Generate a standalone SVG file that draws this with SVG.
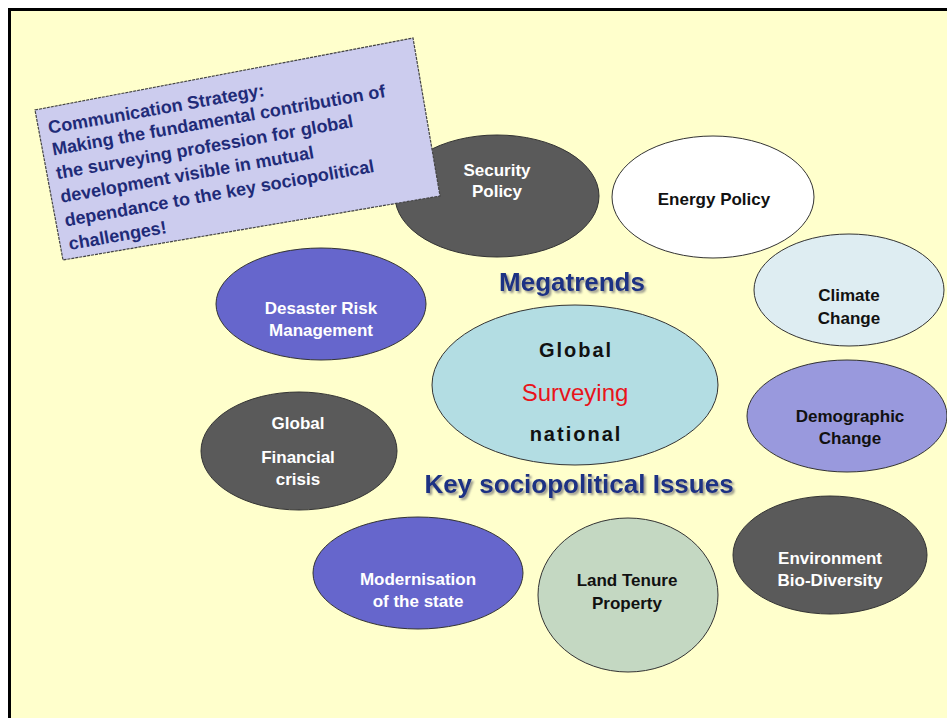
<svg xmlns="http://www.w3.org/2000/svg" width="947" height="718" viewBox="0 0 947 718">
<defs>
<filter id="shadow" x="-10%" y="-30%" width="130%" height="170%">
<feDropShadow dx="2" dy="2" stdDeviation="1.2" flood-color="#7a7a7a" flood-opacity="0.8"/>
</filter>
</defs>
<style>
.node{stroke:#333;stroke-width:1}
.lbl{font-family:"Liberation Sans",Arial,sans-serif;font-weight:bold;font-size:17px;text-anchor:middle}
.w{fill:#ffffff}
.k{fill:#111111}
.gray{fill:#5a5a5a}
.purple{fill:#6666cc}
.box{font-family:"Liberation Sans",Arial,sans-serif;font-weight:bold;font-size:18px;fill:#1f2b78}
.head{font-family:"Liberation Sans",Arial,sans-serif;font-weight:bold;font-size:26px;fill:#1f3384;text-anchor:middle;filter:url(#shadow)}
</style>
<rect x="0" y="0" width="947" height="718" fill="#ffffff"/>
<rect x="11" y="11" width="936" height="707" fill="#ffffcc"/>
<path d="M9.5 718 V9.5 H947" fill="none" stroke="#000" stroke-width="3"/>

<g id="connectors"></g>

<g id="security">
<ellipse class="node gray" cx="497" cy="196" rx="102" ry="61"/>
<text class="lbl w" x="497" y="176">Security</text>
<text class="lbl w" x="497" y="197">Policy</text>
</g>

<g id="strategy">
<polygon points="35,110 413,38 440,196 63,260" fill="#ccccee" stroke="#444" stroke-width="1.2" stroke-dasharray="3,1"/>
<g transform="translate(35,110) rotate(-10)">
<text class="box" x="10" y="26">Communication Strategy:</text>
<text class="box" x="10" y="48">Making the fundamental contribution of</text>
<text class="box" x="10" y="72">the surveying profession for global</text>
<text class="box" x="10" y="96">development visible in mutual</text>
<text class="box" x="10" y="120">dependance to the key sociopolitical</text>
<text class="box" x="10" y="144">challenges!</text>
</g>
</g>

<g id="energy">
<ellipse class="node" cx="713" cy="197" rx="101" ry="61" fill="#ffffff"/>
<text class="lbl k" x="714" y="205">Energy Policy</text>
</g>

<g id="climate">
<ellipse class="node" cx="849" cy="290" rx="95" ry="56" fill="#deedf2"/>
<text class="lbl k" x="849" y="301">Climate</text>
<text class="lbl k" x="849" y="324">Change</text>
</g>

<g id="demographic">
<ellipse class="node" cx="847" cy="416" rx="100" ry="56" fill="#9999dd"/>
<text class="lbl k" x="850" y="422">Demographic</text>
<text class="lbl k" x="850" y="444">Change</text>
</g>

<g id="environment">
<ellipse class="node gray" cx="830" cy="555" rx="97" ry="59"/>
<text class="lbl w" x="830" y="564">Environment</text>
<text class="lbl w" x="830" y="586">Bio-Diversity</text>
</g>

<g id="landtenure">
<ellipse class="node" cx="628" cy="595" rx="90" ry="77" fill="#c4d8c2"/>
<text class="lbl k" x="627" y="586">Land Tenure</text>
<text class="lbl k" x="627" y="609">Property</text>
</g>

<g id="modernisation">
<ellipse class="node purple" cx="418" cy="573" rx="105" ry="56"/>
<text class="lbl w" x="418" y="585">Modernisation</text>
<text class="lbl w" x="418" y="607">of the state</text>
</g>

<g id="financial">
<ellipse class="node gray" cx="299" cy="451" rx="98" ry="59"/>
<text class="lbl w" x="298" y="429">Global</text>
<text class="lbl w" x="298" y="463">Financial</text>
<text class="lbl w" x="298" y="485">crisis</text>
</g>

<g id="desaster">
<ellipse class="node purple" cx="321" cy="304" rx="105" ry="56"/>
<text class="lbl w" x="321" y="314">Desaster Risk</text>
<text class="lbl w" x="321" y="336">Management</text>
</g>

<g id="megatrends">
<text class="head" x="572" y="291">Megatrends</text>
</g>

<g id="center">
<ellipse class="node" cx="575" cy="385" rx="143" ry="80" fill="#b3dde3"/>
<text class="lbl k" x="576" y="357" style="font-size:20px;letter-spacing:2px">Global</text>
<text x="575" y="401" text-anchor="middle" font-family="Liberation Sans,Arial,sans-serif" font-size="24" fill="#e8141b">Surveying</text>
<text class="lbl k" x="576" y="441" style="font-size:20px;letter-spacing:2px">national</text>
</g>

<g id="issues">
<text class="head" x="579" y="493">Key sociopolitical Issues</text>
</g>
</svg>
